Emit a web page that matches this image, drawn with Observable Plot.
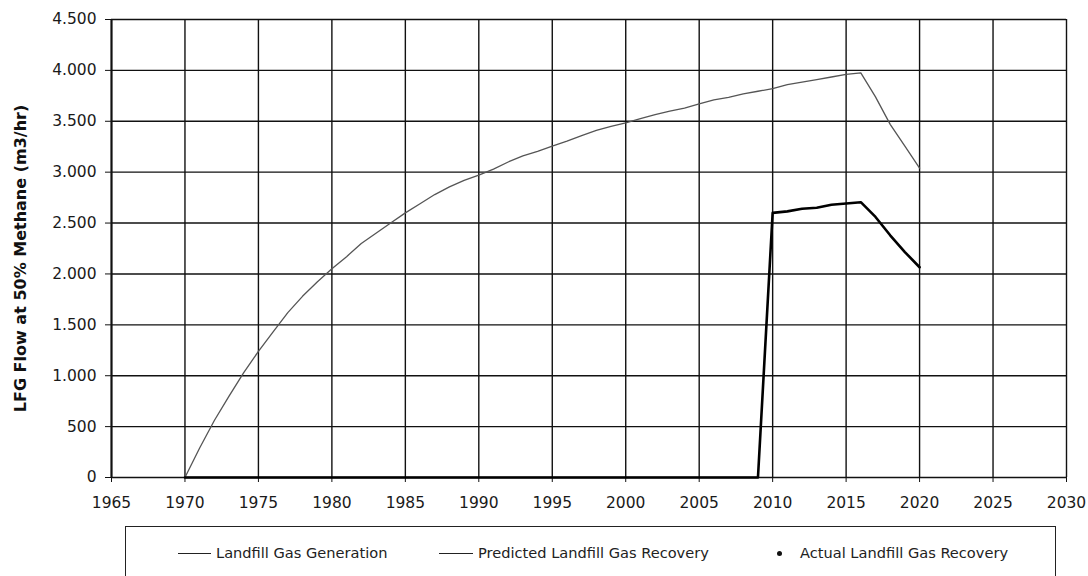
<!DOCTYPE html>
<html>
<head>
<meta charset="utf-8">
<script src="https://cdn.jsdelivr.net/npm/d3@7"></script>
<script src="https://cdn.jsdelivr.net/npm/@observablehq/plot@0.6"></script>
<style>
  html, body { margin: 0; padding: 0; background: #fff; overflow: hidden; }
  #wrap { position: relative; width: 1088px; height: 576px; font-family: "DejaVu Sans", Verdana, sans-serif; }
  #legend { position: absolute; left: 125px; top: 526px; width: 931px; height: 70px; border: 1.5px solid #222; box-sizing: border-box; }
  .li { position: absolute; font-size: 14.6px; color: #222; white-space: nowrap; line-height: 18px; }
  .ln { position: absolute; height: 0; border-top: 1.3px solid #222; }
  .dot { position: absolute; width: 5px; height: 5px; border-radius: 50%; background: #111; }
</style>
</head>
<body>
<div id="wrap">
  <div id="chart"></div>
  <div id="legend"></div>
</div>
<script>
const years = d3.range(1970, 2021);
const generation = [
  0, 290, 560, 800, 1030, 1240, 1430, 1620, 1780, 1920,
  2050, 2170, 2300, 2400, 2500, 2600, 2690, 2780, 2855, 2920,
  2970, 3030, 3100, 3160, 3205, 3255, 3305, 3360, 3410, 3450,
  3485, 3525, 3565, 3600, 3630, 3670, 3710, 3735, 3770, 3795,
  3820, 3860, 3885, 3910, 3935, 3960, 3975, 3740, 3470, 3255, 3040
];
const predictedRecovery = [
  0, 0, 0, 0, 0, 0, 0, 0, 0, 0,
  0, 0, 0, 0, 0, 0, 0, 0, 0, 0,
  0, 0, 0, 0, 0, 0, 0, 0, 0, 0,
  0, 0, 0, 0, 0, 0, 0, 0, 0, 0,
  2600, 2615, 2640, 2650, 2680, 2692, 2705, 2560, 2380, 2215, 2066
];
const actualYears = [];
const actualRecovery = [];
const xTicks = d3.range(1965, 2031, 5);
const yTicks = d3.range(0, 4501, 500);
const seriesNames = ["Landfill Gas Generation", "Predicted Landfill Gas Recovery", "Actual Landfill Gas Recovery"];
const yTitle = "LFG Flow at 50% Methane (m3/hr)";

const genData = years.map((y, i) => ({year: y, value: generation[i]}));
const recData = years.map((y, i) => ({year: y, value: predictedRecovery[i]}));
const actData = actualYears.map((y, i) => ({year: y, value: actualRecovery[i]}));

const fmtY = d3.formatLocale({decimal: ",", thousands: ".", grouping: [3], currency: ["", ""]}).format(",");

const chart = Plot.plot({
  width: 1088,
  height: 520,
  marginLeft: 111,
  marginRight: 22,
  marginTop: 19,
  marginBottom: 43,
  style: {fontFamily: "DejaVu Sans, Verdana, sans-serif", color: "#1a1a1a", background: "#fff"},
  x: {domain: [1965, 2030]},
  y: {domain: [0, 4500]},
  marks: [
    Plot.gridX(xTicks, {stroke: "#111", strokeOpacity: 1, strokeWidth: 1.4}),
    Plot.gridY(yTicks, {stroke: "#111", strokeOpacity: 1, strokeWidth: 1.4}),
    Plot.ruleX([1965], {stroke: "#111", strokeWidth: 2}),
    Plot.axisX({ticks: xTicks, tickFormat: "d", tickSize: 5, tickPadding: 14, fontSize: 15.5, label: null, stroke: "#111"}),
    Plot.axisY({ticks: yTicks, tickFormat: fmtY, tickSize: 6, tickPadding: 9, fontSize: 15.5, label: null, stroke: "#111"}),
    Plot.text([yTitle], {frameAnchor: "left", textAnchor: "middle", rotate: -90, dx: -91, dy: 10, fontWeight: "bold", fontSize: 16, fill: "#111"}),
    Plot.line(genData, {x: "year", y: "value", stroke: "#555", strokeWidth: 1.3}),
    Plot.line(recData, {x: "year", y: "value", stroke: "#000", strokeWidth: 2.6}),
    Plot.dot(actData, {x: "year", y: "value", r: 3, fill: "#111"})
  ]
});
document.getElementById("chart").appendChild(chart);

const legend = document.getElementById("legend");
const items = [
  {type: "line", left: 52, width: 33, textLeft: 90},
  {type: "line", left: 313, width: 34, textLeft: 352},
  {type: "dot", left: 651, textLeft: 674}
];
items.forEach((it, i) => {
  if (it.type === "line") {
    const l = document.createElement("div");
    l.className = "ln";
    l.style.left = it.left + "px";
    l.style.width = it.width + "px";
    l.style.top = "26px";
    legend.appendChild(l);
  } else {
    const d = document.createElement("div");
    d.className = "dot";
    d.style.left = it.left + "px";
    d.style.top = "24px";
    legend.appendChild(d);
  }
  const t = document.createElement("div");
  t.className = "li";
  t.style.left = it.textLeft + "px";
  t.style.top = "17px";
  t.textContent = seriesNames[i];
  legend.appendChild(t);
});
</script>
</body>
</html>
